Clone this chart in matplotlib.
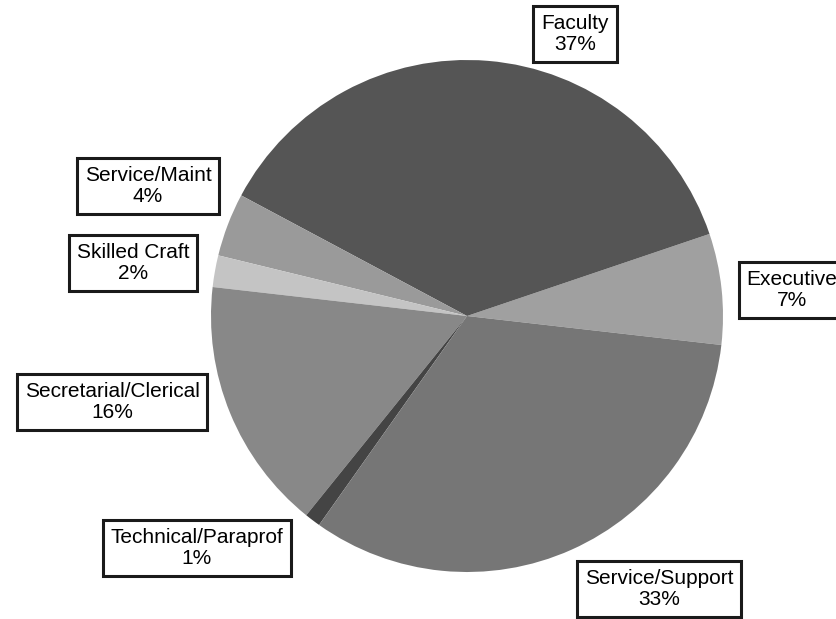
import matplotlib
matplotlib.use("Agg")
import matplotlib.pyplot as plt

plt.rcParams['font.family'] = ['Liberation Sans', 'DejaVu Sans']

categories = ["Executive", "Faculty", "Service/Maint", "Skilled Craft",
              "Secretarial/Clerical", "Technical/Paraprof", "Service/Support"]
shares = [7, 37, 4, 2, 16, 1, 33]
colors = ["#a0a0a0", "#555555", "#9a9a9a", "#c4c4c4",
          "#888888", "#444444", "#767676"]

W, H = 837, 619
fig = plt.figure(figsize=(W / 100, H / 100), dpi=100)
ax = fig.add_axes([0, 0, 1, 1])

cx, cy, r = 467, H - 316, 256
ax.pie(shares, colors=colors, startangle=-6.5, counterclock=True,
       center=(cx, cy), radius=r, frame=True,
       wedgeprops=dict(linewidth=0))
ax.set_xlim(0, W)
ax.set_ylim(0, H)
ax.set_aspect('equal')
ax.axis('off')

# label box centres in pixel coordinates (from top-left)
label_pos = {
    "Faculty": (575, 34),
    "Executive": (792, 290),
    "Service/Maint": (148, 186),
    "Skilled Craft": (133, 263),
    "Secretarial/Clerical": (112, 402),
    "Technical/Paraprof": (197, 548),
    "Service/Support": (659, 589),
}

for name, val in zip(categories, shares):
    x, y = label_pos[name]
    ax.text(x, H - y, f"{name}\n{val}%", ha='center', va='center',
            fontsize=15, linespacing=1.1, color='black', zorder=5,
            bbox=dict(boxstyle='square,pad=0.38', facecolor='white',
                      edgecolor='#1a1a1a', linewidth=2.2))

fig.savefig("out.png", dpi=100)
